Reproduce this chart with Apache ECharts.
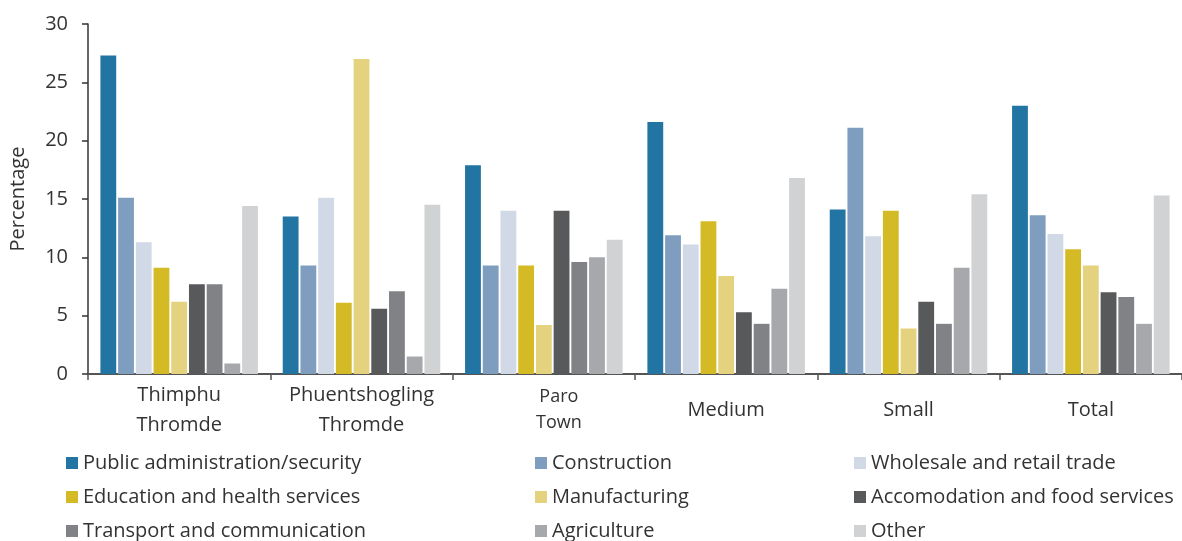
<!DOCTYPE html>
<html>
<head>
<meta charset="utf-8">
<script src="https://cdn.jsdelivr.net/npm/echarts@6/dist/echarts.min.js"></script>
<style>
  html, body { margin: 0; padding: 0; background: #fff; }
  #chart { width: 1182px; height: 541px; }
</style>
</head>
<body>
<div id="chart"></div>
<script>
// Employment share by sector across towns (percent)
const categories = ['Thimphu\nThromde', 'Phuentshogling\nThromde', 'Paro\nTown', 'Medium', 'Small', 'Total'];

const publicAdmin   = [27.3, 13.5, 17.9, 21.6, 14.1, 23.0];
const construction  = [15.1,  9.3,  9.3, 11.9, 21.1, 13.6];
const wholesale     = [11.3, 15.1, 14.0, 11.1, 11.8, 12.0];
const education     = [ 9.1,  6.1,  9.3, 13.1, 14.0, 10.7];
const manufacturing = [ 6.2, 27.0,  4.2,  8.4,  3.9,  9.3];
const accomodation  = [ 7.7,  5.6, 14.0,  5.3,  6.2,  7.0];
const transport     = [ 7.7,  7.1,  9.6,  4.3,  4.3,  6.6];
const agriculture   = [ 0.9,  1.5, 10.0,  7.3,  9.1,  4.3];
const other         = [14.4, 14.5, 11.5, 16.8, 15.4, 15.3];

const yTicks = [0, 5, 10, 15, 20, 25, 30];

const seriesDefs = [
  { name: 'Public administration/security', data: publicAdmin,   color: '#2274a2' },
  { name: 'Construction',                   data: construction,  color: '#7f9ebf' },
  { name: 'Wholesale and retail trade',     data: wholesale,     color: '#d1d9e6' },
  { name: 'Education and health services',  data: education,     color: '#d4bb26' },
  { name: 'Manufacturing',                  data: manufacturing, color: '#e4d27f' },
  { name: 'Accomodation and food services', data: accomodation,  color: '#58595b' },
  { name: 'Transport and communication',    data: transport,     color: '#818285' },
  { name: 'Agriculture',                    data: agriculture,   color: '#a7a8ab' },
  { name: 'Other',                          data: other,         color: '#d1d2d4' }
];

const FONT = '"Open Sans", "Noto Sans", sans-serif';
const TEXT = '#333333';

// Legend laid out as a 3x3 grid, row by row
const legendCols = [66, 535, 854];
const legendRows = [453, 487, 521];
const legends = seriesDefs.map(function (s, i) {
  return {
    left: legendCols[i % 3], top: legendRows[Math.floor(i / 3)],
    itemWidth: 12, itemHeight: 12, icon: 'rect', padding: 0,
    textStyle: { fontFamily: FONT, fontSize: 20, color: TEXT, lineHeight: 20 },
    data: [s.name]
  };
});

const chart = echarts.init(document.getElementById('chart'));
chart.setOption({
  animation: false,
  backgroundColor: '#fff',
  grid: { left: 85, right: 0, top: 24, bottom: 167 },
  legend: legends,
  xAxis: {
    type: 'category',
    data: categories,
    boundaryGap: true,
    axisLine: { show: true, lineStyle: { color: '#555', width: 2 } },
    axisTick: { show: true, length: 6, lineStyle: { color: '#555', width: 1.5 } },
    axisLabel: {
      interval: 0, hideOverlap: false,
      fontFamily: FONT, fontSize: 20, color: TEXT, lineHeight: 30,
      verticalAlign: 'middle', margin: 36,
      formatter: function (v) {
        if (v === 'Paro\nTown') return '{s|Paro}\n{s|Town}';
        return v;
      },
      rich: { s: { fontFamily: FONT, fontSize: 18, lineHeight: 26, color: TEXT, padding: [0, 0, 0, 30] } }
    }
  },
  yAxis: {
    type: 'value',
    min: yTicks[0], max: yTicks[yTicks.length - 1], interval: 5,
    name: 'Percentage', nameLocation: 'middle', nameGap: 60, nameRotate: 90,
    nameTextStyle: { fontFamily: FONT, fontSize: 20, color: TEXT },
    axisLine: { show: true, lineStyle: { color: '#333', width: 1.5 } },
    axisTick: { show: true, length: 6, lineStyle: { color: '#333', width: 1.5 } },
    axisLabel: { fontFamily: FONT, fontSize: 20, color: TEXT, margin: 20 },
    splitLine: { show: false }
  },
  series: seriesDefs.map(function (s) {
    return {
      name: s.name, type: 'bar', data: s.data,
      barGap: '12%', barCategoryGap: '13.6%',
      itemStyle: { color: s.color },
      emphasis: { disabled: true }
    };
  })
});
</script>
</body>
</html>
